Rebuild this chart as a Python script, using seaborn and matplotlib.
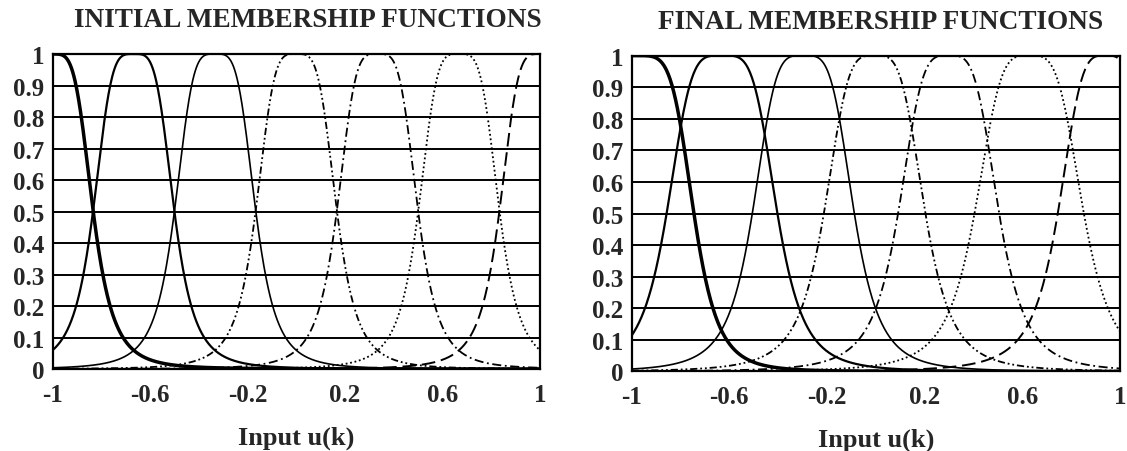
import numpy as np
import pandas as pd
import seaborn as sns
import matplotlib
matplotlib.use("Agg")
import matplotlib.pyplot as plt

# bell membership function parameters
init_centers = [-1.0, -0.667, -0.333, 0.0, 0.333, 0.667, 1.0]
init_widths = [0.167, 0.167, 0.167, 0.167, 0.167, 0.167, 0.167]
init_slopes = [2.0, 2.0, 2.0, 2.0, 2.0, 2.0, 2.0]

final_centers = [-1.0, -0.63, -0.297, -0.005, 0.298, 0.628, 0.94]
final_widths = [0.255, 0.227, 0.209, 0.208, 0.207, 0.224, 0.195]
final_slopes = [2.6, 2.1, 2.0, 1.9, 1.9, 1.9, 1.8]

titles = ["INITIAL MEMBERSHIP FUNCTIONS", "FINAL MEMBERSHIP FUNCTIONS"]
x_label = "Input u(k)"
x_ticks = [-1, -0.6, -0.2, 0.2, 0.6, 1]
x_ticklabels = ["-1", "-0.6", "-0.2", "0.2", "0.6", "1"]
y_ticks = [0, 0.1, 0.2, 0.3, 0.4, 0.5, 0.6, 0.7, 0.8, 0.9, 1]
y_ticklabels = ["0", "0.1", "0.2", "0.3", "0.4", "0.5", "0.6", "0.7", "0.8", "0.9", "1"]

# line look of the seven functions
widths_lw = [2.5, 1.6, 1.2, 1.3, 1.3, 1.3, 1.4]
styles = ["-", "-", "-",
          (0, (4, 1.6, 1, 1.6, 1, 1.6)),
          (0, (5, 2, 1, 2)),
          (0, (1, 1.5)),
          (0, (7, 3))]

u = np.linspace(-1, 1, 801)
rows = []
for panel, (cs, ws, bs) in enumerate([(init_centers, init_widths, init_slopes),
                                      (final_centers, final_widths, final_slopes)]):
    for k, (c, a, b) in enumerate(zip(cs, ws, bs)):
        mu = 1.0 / (1.0 + np.abs((u - c) / a) ** (2 * b))
        rows.append(pd.DataFrame({"u": u, "mu": mu, "mf": k, "panel": panel}))
df = pd.concat(rows, ignore_index=True)

sns.set_style("white")
plt.rcParams["font.family"] = ["Liberation Serif", "DejaVu Serif"]
plt.rcParams["font.weight"] = "bold"

fig = plt.figure(figsize=(11.27, 4.52), dpi=100)
axes = [fig.add_axes([0.0466, 0.1814, 0.4326, 0.6969]),
        fig.add_axes([0.5605, 0.1759, 0.4333, 0.6990])]
title_x = [0.524, 0.51]

for panel, ax in enumerate(axes):
    for yv in y_ticks:
        ax.axhline(yv, color="black", lw=1.4, zorder=1)
    sub = df[df["panel"] == panel]
    for k in range(7):
        d = sub[sub["mf"] == k]
        sns.lineplot(data=d, x="u", y="mu", ax=ax, color="black",
                     lw=widths_lw[k], linestyle=styles[k],
                     estimator=None, sort=False, zorder=3)
    ax.set_xlim(-1, 1)
    ax.set_ylim(0, 1)
    ax.set_xticks(x_ticks)
    ax.set_xticklabels(x_ticklabels, fontsize=18, fontweight="bold")
    ax.set_yticks(y_ticks)
    ax.set_yticklabels(y_ticklabels, fontsize=18, fontweight="bold")
    ax.tick_params(axis="both", length=0)
    ax.tick_params(axis="x", pad=10)
    ax.tick_params(axis="y", pad=6)
    ax.set_xlabel(x_label, fontsize=19, fontweight="bold", labelpad=14)
    ax.set_ylabel("")
    ax.set_title(titles[panel], fontsize=19.6, fontweight="bold", pad=20, x=title_x[panel])
    for sp in ax.spines.values():
        sp.set_color("black")
        sp.set_linewidth(1.6)
        sp.set_visible(True)

fig.savefig("out.png", dpi=100)
